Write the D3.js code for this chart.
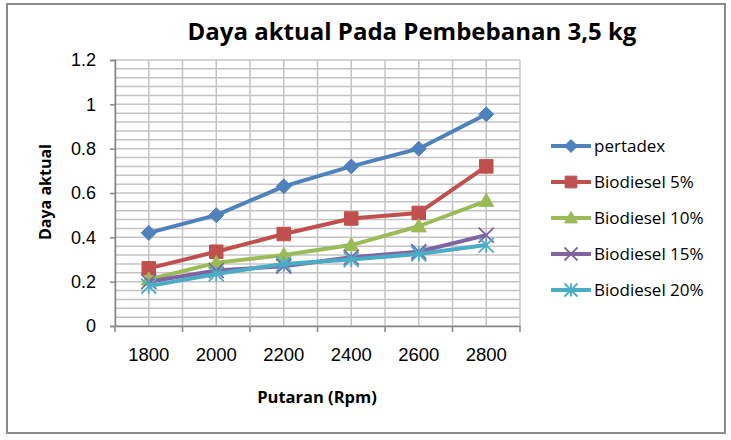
<!DOCTYPE html>
<html>
<head>
<meta charset="utf-8">
<script src="https://cdn.jsdelivr.net/npm/d3@7"></script>
<style>
  body { margin: 0; background: #fff; }
  svg { font-family: "Open Sans", "Noto Sans", sans-serif; }
</style>
</head>
<body>
<div id="chart"></div>
<script>
// --- Data ---
const categories = ["1800", "2000", "2200", "2400", "2600", "2800"];
const seriesNames = ["pertadex", "Biodiesel 5%", "Biodiesel 10%", "Biodiesel 15%", "Biodiesel 20%"];
const pertadex = [0.42, 0.50, 0.63, 0.72, 0.80, 0.955];
const bio5 = [0.26, 0.335, 0.415, 0.485, 0.51, 0.72];
const bio10 = [0.21, 0.285, 0.32, 0.365, 0.45, 0.565];
const bio15 = [0.20, 0.25, 0.27, 0.31, 0.335, 0.41];
const bio20 = [0.18, 0.235, 0.28, 0.30, 0.325, 0.365];
const yTicks = [0, 0.2, 0.4, 0.6, 0.8, 1, 1.2];

const seriesValues = [pertadex, bio5, bio10, bio15, bio20];
const colors = ["#4F81BD", "#C0504D", "#9BBB59", "#8064A2", "#4BACC6"];
const markers = ["diamond", "square", "triangle", "times", "star"];

const width = 731, height = 440;
const plot = { left: 115, right: 520, top: 60, bottom: 326 };

const svg = d3.select("#chart").append("svg")
  .attr("width", width)
  .attr("height", height);

// Outer chart border
svg.append("rect")
  .attr("x", 7).attr("y", 4)
  .attr("width", 718).attr("height", 429)
  .attr("fill", "#fff")
  .attr("stroke", "#8c8c8c")
  .attr("stroke-width", 2);

// Scales
const x = d3.scaleBand().domain(categories).range([plot.left, plot.right]).padding(0);
const y = d3.scaleLinear().domain([0, 1.2]).range([plot.bottom, plot.top]);

// --- Gridlines ---
const grid = svg.append("g").attr("stroke", "#c4c4c4").attr("stroke-width", 1.5);
const minor = d3.range(0, 1.2001, 0.04);
grid.selectAll(".hgrid").data(minor).enter().append("line")
  .attr("x1", plot.left).attr("x2", plot.right)
  .attr("y1", d => y(d)).attr("y2", d => y(d));

const vlines = [];
categories.forEach(c => { vlines.push(x(c)); vlines.push(x(c) + x.bandwidth() / 2); });
vlines.push(plot.right);
grid.selectAll(".vgrid").data(vlines).enter().append("line")
  .attr("x1", d => d).attr("x2", d => d)
  .attr("y1", plot.top).attr("y2", plot.bottom);

// --- Axes ---
const axisColor = "#868686";
const yAxis = svg.append("g")
  .attr("transform", `translate(${plot.left},0)`)
  .call(d3.axisLeft(y).tickValues(yTicks).tickSize(5).tickPadding(14)
    .tickFormat(d => d3.format("")(+d.toFixed(1))));
yAxis.select(".domain").attr("stroke", axisColor).attr("stroke-width", 1.5);
yAxis.selectAll(".tick line").attr("stroke", axisColor).attr("stroke-width", 1.5);
yAxis.selectAll(".tick text")
  .attr("fill", "#000").style("font-size", "18px").attr("font-family", null);

const xAxis = svg.append("g")
  .attr("transform", `translate(0,${plot.bottom})`)
  .call(d3.axisBottom(x).tickSize(0).tickPadding(22));
xAxis.select(".domain").attr("stroke", axisColor).attr("stroke-width", 1.5);
xAxis.selectAll(".tick text")
  .attr("fill", "#000").style("font-size", "18.5px").attr("font-family", null);
// category boundary tick marks
const bounds = categories.map(c => x(c)).concat([plot.right]);
xAxis.selectAll(".btick").data(bounds).enter().append("line")
  .attr("x1", d => d).attr("x2", d => d)
  .attr("y1", 0).attr("y2", 6)
  .attr("stroke", axisColor).attr("stroke-width", 1.5);

// --- Marker paths ---
function markerPath(type, s) {
  const h = s / 2;
  switch (type) {
    case "diamond": return `M0,${-h}L${h},0L0,${h}L${-h},0Z`;
    case "square": return `M${-h * 0.9},${-h * 0.9}H${h * 0.9}V${h * 0.9}H${-h * 0.9}Z`;
    case "triangle": return `M0,${-h}L${h},${h * 0.75}L${-h},${h * 0.75}Z`;
    case "times": return `M${-h},${-h}L${h},${h}M${h},${-h}L${-h},${h}`;
    case "star": return `M${-h},${-h}L${h},${h}M${h},${-h}L${-h},${h}M0,${-h}V${h}`;
  }
}
function drawMarker(g, type, color, s) {
  const stroked = type === "times" || type === "star";
  g.append("path")
    .attr("d", markerPath(type, s))
    .attr("fill", stroked ? "none" : color)
    .attr("stroke", color)
    .attr("stroke-width", stroked ? 1.8 : 1);
}

// --- Series ---
const line = d3.line()
  .x((d, i) => x(categories[i]) + x.bandwidth() / 2)
  .y(d => y(d));

seriesValues.forEach((vals, si) => {
  const g = svg.append("g");
  g.append("path")
    .datum(vals)
    .attr("d", line)
    .attr("fill", "none")
    .attr("stroke", colors[si])
    .attr("stroke-width", 4)
    .attr("stroke-linejoin", "round");
  vals.forEach((v, i) => {
    const m = g.append("g")
      .attr("transform", `translate(${x(categories[i]) + x.bandwidth() / 2},${y(v)})`);
    drawMarker(m, markers[si], colors[si], 15);
  });
});

// --- Legend ---
const legendY = [146, 182, 218, 254, 290];
seriesNames.forEach((name, i) => {
  const g = svg.append("g").attr("transform", `translate(551,${legendY[i]})`);
  g.append("line").attr("x1", 0).attr("x2", 40)
    .attr("stroke", colors[i]).attr("stroke-width", 4);
  const m = g.append("g").attr("transform", "translate(20,0)");
  drawMarker(m, markers[i], colors[i], 13);
  g.append("text")
    .attr("x", 43).attr("dy", "0.35em")
    .style("font-size", "17px")
    .text(name);
});

// --- Titles ---
svg.append("text")
  .attr("x", 412).attr("y", 32)
  .attr("text-anchor", "middle").attr("dy", "0.35em")
  .style("font-size", "24px").style("font-weight", "bold")
  .text("Daya aktual Pada Pembebanan 3,5 kg");

svg.append("text")
  .attr("transform", "translate(45,192) rotate(-90)")
  .attr("text-anchor", "middle").attr("dy", "0.35em")
  .style("font-size", "16px").style("font-weight", "bold")
  .text("Daya aktual");

svg.append("text")
  .attr("x", 317).attr("y", 397)
  .attr("text-anchor", "middle").attr("dy", "0.35em")
  .style("font-size", "16.5px").style("font-weight", "bold")
  .text("Putaran (Rpm)");
</script>
</body>
</html>
